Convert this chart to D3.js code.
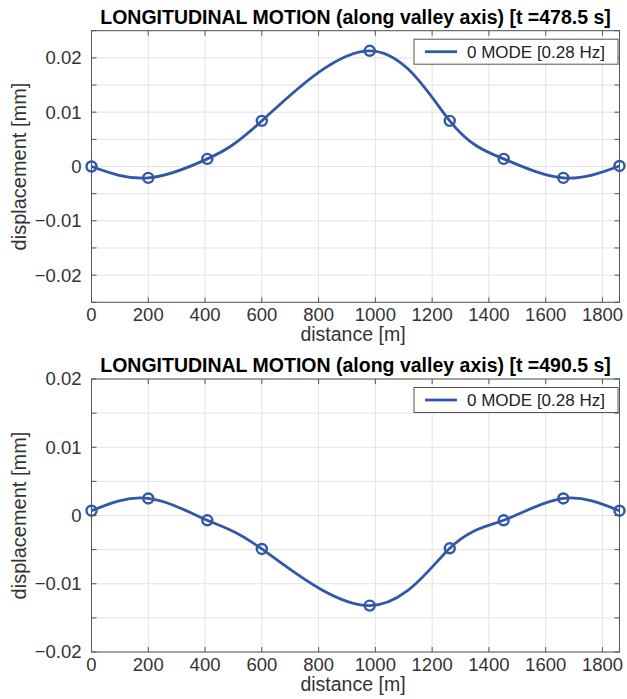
<!DOCTYPE html>
<html>
<head>
<meta charset="utf-8">
<script src="https://cdn.jsdelivr.net/npm/d3@7"></script>
<style>
    body { margin: 0; background: #fff; }
    text { font-family: "Liberation Sans", Arial, sans-serif; }
</style>
</head>
<body>
<div id="chart"></div>
<script>
// Data
var distance = [0, 200, 408, 600, 980, 1262, 1452, 1662, 1860];
var dispTop = [0, -0.0021, 0.0014, 0.0084, 0.0213, 0.0084, 0.0014, -0.0021, 0.0001];
var dispBottom = [0.0007, 0.0025, -0.0007, -0.0049, -0.0132, -0.0048, -0.0007, 0.0025, 0.0007];
var titles = [
    "LONGITUDINAL MOTION (along valley axis) [t =478.5 s]",
    "LONGITUDINAL MOTION (along valley axis) [t =490.5 s]"
];
var yDomains = [[-0.025, 0.025], [-0.02, 0.02]];
var xTicks = [0, 200, 400, 600, 800, 1000, 1200, 1400, 1600, 1800];
var legendLabel = "0 MODE [0.28 Hz]";

var opts = {
    width: 627,
    height: 699,
    left: 91.5,
    right: 619.5,
    panels: [{top: 30.7, bottom: 302.3}, {top: 379, bottom: 652}],
    color: "#3157a7",
    grid: "#e3e3e3",
    axis: "#555",
    text: "#333"
};

var svg = d3.select("#chart")
    .append("svg")
    .attr("width", opts.width)
    .attr("height", opts.height);

var x = d3.scaleLinear()
    .domain([0, d3.max(distance)])
    .range([opts.left, opts.right]);

function drawPanel(i, values) {
    var p = opts.panels[i];
    var dom = yDomains[i];
    var y = d3.scaleLinear().domain(dom).range([p.bottom, p.top]);
    var g = svg.append("g");

    var yTicks = d3.range(dom[0], dom[1] + 0.0001, 0.005).map(function(v) {
        return Math.round(v * 1000) / 1000;
    });
    var yLabels = yTicks.filter(function(v) {
        return Math.abs(Math.round(v * 100) - v * 100) < 1e-6;
    });

    // grid
    g.append("g").selectAll("line.gx")
        .data(xTicks)
        .enter().append("line")
        .attr("x1", function(d) { return x(d); })
        .attr("x2", function(d) { return x(d); })
        .attr("y1", p.top)
        .attr("y2", p.bottom)
        .attr("stroke", opts.grid);

    g.append("g").selectAll("line.gy")
        .data(yTicks)
        .enter().append("line")
        .attr("x1", opts.left)
        .attr("x2", opts.right)
        .attr("y1", function(d) { return y(d); })
        .attr("y2", function(d) { return y(d); })
        .attr("stroke", opts.grid);

    // inward ticks on all four sides
    var tickLen = 5;
    var ticks = g.append("g").attr("stroke", opts.axis);
    xTicks.forEach(function(d) {
        ticks.append("line").attr("x1", x(d)).attr("x2", x(d))
            .attr("y1", p.bottom).attr("y2", p.bottom - tickLen);
        ticks.append("line").attr("x1", x(d)).attr("x2", x(d))
            .attr("y1", p.top).attr("y2", p.top + tickLen);
    });
    yTicks.forEach(function(d) {
        ticks.append("line").attr("x1", opts.left).attr("x2", opts.left + tickLen)
            .attr("y1", y(d)).attr("y2", y(d));
        ticks.append("line").attr("x1", opts.right).attr("x2", opts.right - tickLen)
            .attr("y1", y(d)).attr("y2", y(d));
    });

    g.append("rect")
        .attr("x", opts.left)
        .attr("y", p.top)
        .attr("width", opts.right - opts.left)
        .attr("height", p.bottom - p.top)
        .attr("fill", "none")
        .attr("stroke", opts.axis)
        .attr("stroke-width", 1);

    // tick labels
    g.append("g").selectAll("text")
        .data(xTicks)
        .enter().append("text")
        .attr("x", function(d) { return x(d); })
        .attr("y", p.bottom + 19)
        .attr("text-anchor", "middle")
        .attr("font-size", "18.5px")
        .attr("fill", opts.text)
        .text(function(d) { return d; });

    g.append("g").selectAll("text")
        .data(yLabels)
        .enter().append("text")
        .attr("x", opts.left - 10)
        .attr("y", function(d) { return y(d); })
        .attr("dy", "0.35em")
        .attr("text-anchor", "end")
        .attr("font-size", "18.5px")
        .attr("fill", opts.text)
        .text(function(d) { return d === 0 ? "0" : d3.format(".2f")(d); });

    // axis labels + title
    g.append("text")
        .attr("x", 353)
        .attr("y", p.bottom + 39)
        .attr("text-anchor", "middle")
        .attr("font-size", "19.5px")
        .attr("fill", opts.text)
        .text("distance [m]");

    g.append("text")
        .attr("transform", "translate(26," + ((p.top + p.bottom) / 2) + ") rotate(-90)")
        .attr("text-anchor", "middle")
        .attr("font-size", "20px")
        .attr("fill", opts.text)
        .text("displacement [mm]");

    g.append("text")
        .attr("x", (opts.left + opts.right) / 2)
        .attr("y", p.top - 7)
        .attr("text-anchor", "middle")
        .attr("font-size", "19.5px")
        .attr("font-weight", "bold")
        .attr("fill", "#000")
        .text(titles[i]);

    // curve + markers
    var pts = distance.map(function(d, k) { return [d, values[k]]; });
    var line = d3.line()
        .x(function(d) { return x(d[0]); })
        .y(function(d) { return y(d[1]); })
        .curve(d3.curveNatural);

    g.append("path")
        .attr("d", line(pts))
        .attr("fill", "none")
        .attr("stroke", opts.color)
        .attr("stroke-width", 2.8);

    g.append("g").selectAll("circle")
        .data(pts)
        .enter().append("circle")
        .attr("cx", function(d) { return x(d[0]); })
        .attr("cy", function(d) { return y(d[1]); })
        .attr("r", 5)
        .attr("fill", "none")
        .attr("stroke", opts.color)
        .attr("stroke-width", 2.4);

    // legend
    var lg = g.append("g").attr("transform", "translate(414," + (p.top + 8.5) + ")");
    lg.append("rect")
        .attr("width", 204)
        .attr("height", 25)
        .attr("fill", "#fff")
        .attr("stroke", "#555");
    lg.append("line")
        .attr("x1", 11).attr("x2", 43)
        .attr("y1", 12.5).attr("y2", 12.5)
        .attr("stroke", opts.color)
        .attr("stroke-width", 2.8);
    lg.append("text")
        .attr("x", 53)
        .attr("y", 12.5)
        .attr("dy", "0.35em")
        .attr("font-size", "17px")
        .attr("fill", "#222")
        .text(legendLabel);
}

drawPanel(0, dispTop);
drawPanel(1, dispBottom);
</script>
</body>
</html>
